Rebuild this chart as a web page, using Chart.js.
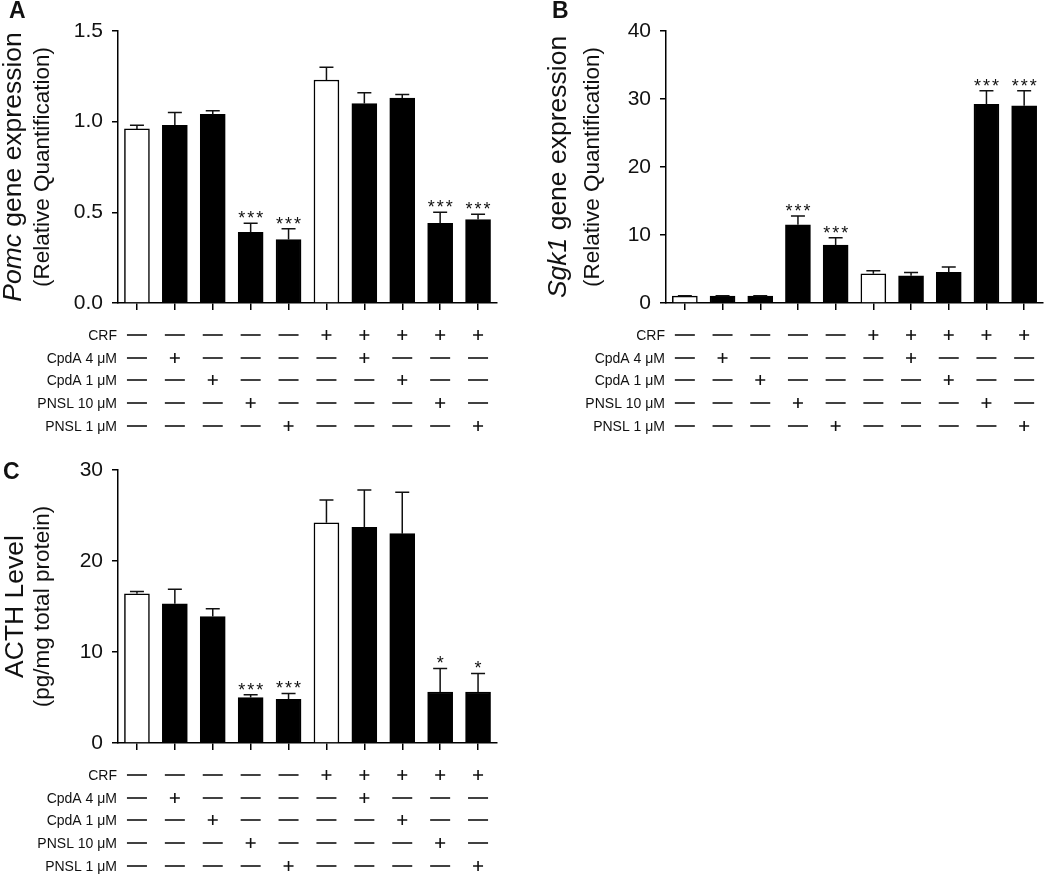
<!DOCTYPE html>
<html>
<head>
<meta charset="utf-8">
<script src="https://cdn.jsdelivr.net/npm/chart.js@4.4.1/dist/chart.umd.min.js"></script>
<style>
  body { margin: 0; background: #fff; width: 1050px; height: 879px; position: relative; overflow: hidden; }
  canvas { position: absolute; }
</style>
</head>
<body>
<canvas id="panelA" width="525" height="440" style="left:0;top:0"></canvas>
<canvas id="panelB" width="525" height="440" style="left:525px;top:0"></canvas>
<canvas id="panelC" width="525" height="439" style="left:0;top:440px"></canvas>
<script>
// groups along the x axis (labels are shown by the treatment table instead)
const groups = ['1', '2', '3', '4', '5', '6', '7', '8', '9', '10'];
const treatmentRows = ['CRF', 'CpdA 4 \u03bcM', 'CpdA 1 \u03bcM', 'PNSL 10 \u03bcM', 'PNSL 1 \u03bcM'];
const treatmentMatrix = [
  [0, 0, 0, 0, 0, 1, 1, 1, 1, 1],
  [0, 1, 0, 0, 0, 0, 1, 0, 0, 0],
  [0, 0, 1, 0, 0, 0, 0, 1, 0, 0],
  [0, 0, 0, 1, 0, 0, 0, 0, 1, 0],
  [0, 0, 0, 0, 1, 0, 0, 0, 0, 1]
];
const isControl = [1, 0, 0, 0, 0, 1, 0, 0, 0, 0];

const pomcMean = [0.96, 0.98, 1.04, 0.39, 0.35, 1.23, 1.10, 1.13, 0.44, 0.46];
const pomcSem = [0.02, 0.07, 0.02, 0.05, 0.06, 0.07, 0.06, 0.02, 0.06, 0.03];
const pomcStars = ['', '', '', '***', '***', '', '', '', '***', '***'];

const sgk1Mean = [1.0, 1.0, 1.0, 11.5, 8.5, 4.3, 4.0, 4.5, 29.2, 29.0];
const sgk1Sem = [0.05, 0.05, 0.05, 1.3, 1.1, 0.45, 0.5, 0.8, 2.0, 2.2];
const sgk1Stars = ['', '', '', '***', '***', '', '', '', '***', '***'];

const acthMean = [16.4, 15.3, 13.9, 5.0, 4.8, 24.2, 23.7, 23.0, 5.6, 5.6];
const acthSem = [0.25, 1.6, 0.85, 0.3, 0.65, 2.5, 4.1, 4.55, 2.6, 2.05];
const acthStars = ['', '', '', '***', '***', '', '', '', '*', '*'];

const ink = '#111';
const rowOffsets = [32, 55, 77, 100, 123];
const family = '"Liberation Sans", Arial, sans-serif';

function makePanel(cfg) {
  const canvas = document.getElementById(cfg.id);
  const W = canvas.width, H = canvas.height;
  const area = cfg.area;

  const extras = {
    id: 'extras',
    afterDraw(chart) {
      const ctx = chart.ctx;
      const x = chart.scales.x, y = chart.scales.y;
      const ca = chart.chartArea;
      ctx.save();
      ctx.strokeStyle = ink;
      ctx.fillStyle = ink;

      // error bars (upper half only) and significance stars
      ctx.lineWidth = 1.5;
      chart.getDatasetMeta(0).data.forEach((bar, i) => {
        const yErr = y.getPixelForValue(cfg.mean[i] + cfg.sem[i]);
        ctx.beginPath();
        ctx.moveTo(bar.x, bar.y);
        ctx.lineTo(bar.x, yErr);
        ctx.moveTo(bar.x - 7, yErr);
        ctx.lineTo(bar.x + 7, yErr);
        ctx.stroke();
        if (cfg.stars[i]) {
          ctx.font = '18px ' + family;
          ctx.letterSpacing = '2px';
          ctx.textAlign = 'center';
          ctx.textBaseline = 'alphabetic';
          ctx.fillText(cfg.stars[i], bar.x + 1, yErr + 1);
          ctx.letterSpacing = '0px';
        }
      });

      // treatment table
      ctx.font = '14px ' + family;
      ctx.textAlign = 'right';
      ctx.textBaseline = 'middle';
      ctx.lineWidth = 1.6;
      treatmentRows.forEach((name, r) => {
        const ry = ca.bottom + rowOffsets[r];
        ctx.fillText(name, ca.left - 1, ry + 1);
        groups.forEach((g, i) => {
          const cx = x.getPixelForValue(i);
          ctx.beginPath();
          if (treatmentMatrix[r][i]) {
            ctx.moveTo(cx - 5, ry); ctx.lineTo(cx + 5, ry);
            ctx.moveTo(cx, ry - 5); ctx.lineTo(cx, ry + 5);
          } else {
            ctx.moveTo(cx - 10, ry); ctx.lineTo(cx + 10, ry);
          }
          ctx.stroke();
        });
      });

      // y axis titles (rotated)
      const midY = (ca.top + ca.bottom) / 2;
      ctx.textAlign = 'left';
      ctx.textBaseline = 'middle';
      ctx.save();
      ctx.translate(cfg.titleX, midY);
      ctx.rotate(-Math.PI / 2);
      let total = 0;
      cfg.title.forEach(p => { ctx.font = p.font; total += ctx.measureText(p.text).width; });
      let px = -total / 2;
      cfg.title.forEach(p => { ctx.font = p.font; ctx.fillText(p.text, px, 0); px += ctx.measureText(p.text).width; });
      ctx.restore();
      ctx.save();
      ctx.translate(cfg.subX, midY);
      ctx.rotate(-Math.PI / 2);
      ctx.font = '22.5px ' + family;
      ctx.textAlign = 'center';
      ctx.fillText(cfg.sub, 0, 0);
      ctx.restore();

      // panel letter
      ctx.font = 'bold 23px ' + family;
      ctx.textAlign = 'left';
      ctx.textBaseline = 'top';
      ctx.fillText(cfg.letter, cfg.letterX, cfg.letterY);
      ctx.restore();
    }
  };

  return new Chart(canvas, {
    type: 'bar',
    data: {
      labels: groups,
      datasets: [{
        data: cfg.mean,
        backgroundColor: isControl.map(c => c ? '#fff' : '#000'),
        borderColor: '#000',
        borderWidth: 1.5,
        barThickness: 25
      }]
    },
    options: {
      responsive: false,
      animation: false,
      layout: { padding: { left: 0, top: area.top, right: W - area.right, bottom: 0 } },
      plugins: { legend: { display: false }, tooltip: { enabled: false } },
      scales: {
        x: {
          offset: true,
          grid: { display: true, drawOnChartArea: false, offset: false, tickLength: 7, color: '#000', lineWidth: 1.5 },
          border: { color: '#000', width: 1.5 },
          ticks: { display: false },
          afterFit: s => { s.height = H - area.bottom; }
        },
        y: {
          min: 0,
          max: cfg.yMax,
          ticks: {
            stepSize: cfg.yStep,
            callback: v => v.toFixed(cfg.decimals),
            font: { family: family, size: 21 },
            color: ink,
            padding: 9
          },
          grid: { drawOnChartArea: false, tickLength: 6, color: '#000', lineWidth: 1.5 },
          border: { color: '#000', width: 1.5 },
          afterFit: s => { s.width = area.left; }
        }
      }
    },
    plugins: [extras]
  });
}

const bigFont = '26.5px ' + family;
const bigItalic = 'italic 26.5px ' + family;

makePanel({
  id: 'panelA', letter: 'A', letterX: 9, letterY: 0,
  area: { left: 118, top: 31, right: 497, bottom: 303 },
  mean: pomcMean, sem: pomcSem, stars: pomcStars,
  yMax: 1.5, yStep: 0.5, decimals: 1,
  title: [{ text: 'Pomc', font: bigItalic }, { text: ' gene expression', font: bigFont }],
  sub: '(Relative Quantification)', titleX: 14, subX: 43
});

makePanel({
  id: 'panelB', letter: 'B', letterX: 27, letterY: 0,
  area: { left: 141, top: 31, right: 518, bottom: 303 },
  mean: sgk1Mean, sem: sgk1Sem, stars: sgk1Stars,
  yMax: 40, yStep: 10, decimals: 0,
  title: [{ text: 'Sgk1', font: bigItalic }, { text: ' gene expression', font: bigFont }],
  sub: '(Relative Quantification)', titleX: 34, subX: 68
});

makePanel({
  id: 'panelC', letter: 'C', letterX: 3, letterY: 21,
  area: { left: 118, top: 30, right: 497, bottom: 303 },
  mean: acthMean, sem: acthSem, stars: acthStars,
  yMax: 30, yStep: 10, decimals: 0,
  title: [{ text: 'ACTH Level', font: bigFont }],
  sub: '(pg/mg total protein)', titleX: 16, subX: 43
});
</script>
</body>
</html>
